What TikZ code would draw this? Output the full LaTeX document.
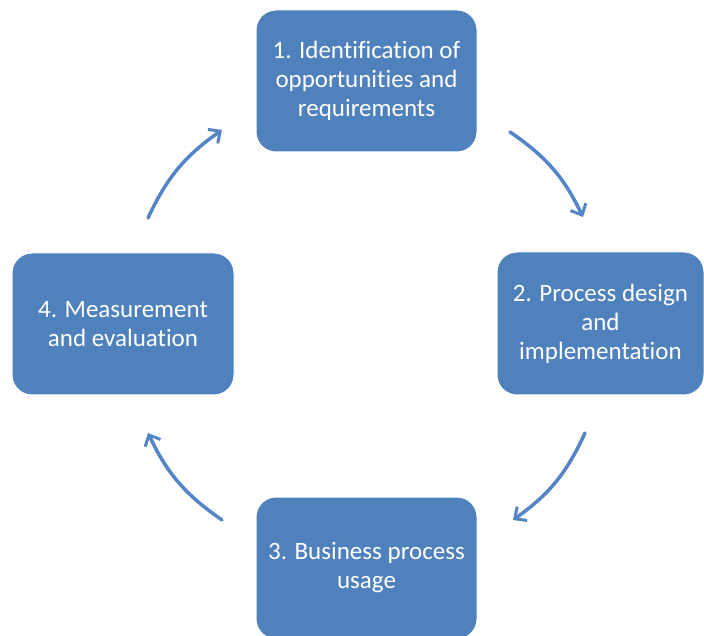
\documentclass[tikz,border=0pt]{standalone}
\usepackage{fontspec}
\setmainfont{Carlito}[Ligatures={NoCommon}]
\usetikzlibrary{arrows.meta}
\definecolor{boxblue}{HTML}{4F81BD}
\definecolor{arrowblue}{HTML}{5585C6}
\tikzset{
  stage/.style={draw=white, line width=1pt, fill=boxblue, rounded corners=20pt, text=white,
    align=center, font=\fontsize{25}{29}\selectfont, inner sep=0pt},
  cyclearrow/.style={draw=arrowblue, line width=3.5pt, line cap=round,
    -{Straight Barb[length=9pt,width=17pt,line width=3pt]}, bend left=15}
}
\begin{document}
\begin{tikzpicture}[x=1pt,y=1pt]
\useasboundingbox (0,0) rectangle (704,635);
\clip (0,0) rectangle (704,635);
\fill[white] (0,0) rectangle (704,635);
\node[stage, minimum width=221pt, minimum height=142pt] (s1) at (366.5,554) {1. Identification of\\opportunities and\\requirements};
\node[stage, minimum width=207pt, minimum height=143pt] (s2) at (600.5,311.5) {2. Process design\\and\\implementation};
\node[stage, minimum width=221pt, minimum height=142pt] (s3) at (366.5,67) {3. Business process\\usage};
\node[stage, minimum width=222pt, minimum height=142pt] (s4) at (123,311) {4. Measurement\\and evaluation};
\coordinate (a1s) at (510,503);
\coordinate (a1e) at (583,418);
\coordinate (a2s) at (585,202);
\coordinate (a2e) at (513,115);
\coordinate (a3s) at (222,115);
\coordinate (a3e) at (148,202);
\coordinate (a4s) at (148,417);
\coordinate (a4e) at (222,505);
\draw[cyclearrow] (a1s) to (a1e);
\draw[cyclearrow] (a2s) to (a2e);
\draw[cyclearrow] (a3s) to (a3e);
\draw[cyclearrow] (a4s) to (a4e);
\end{tikzpicture}
\end{document}
